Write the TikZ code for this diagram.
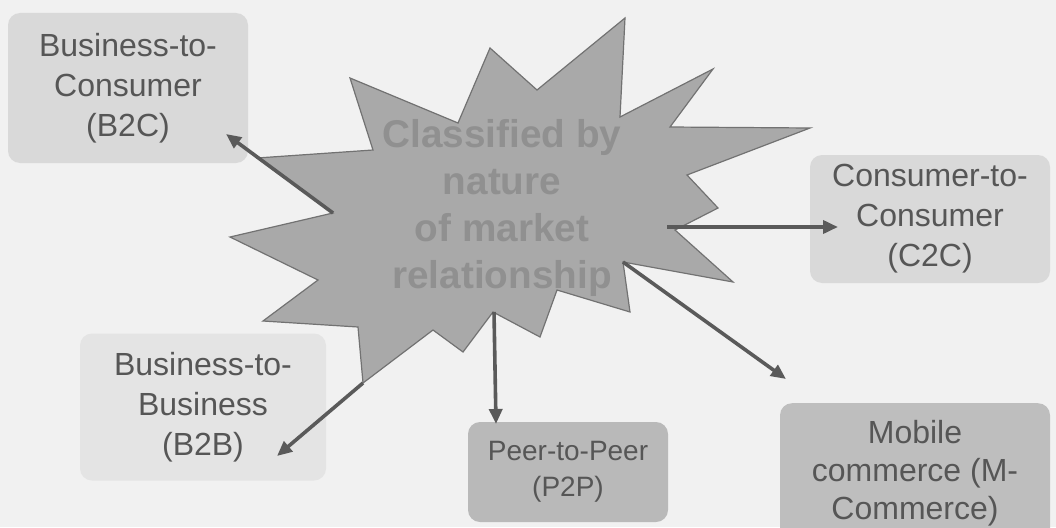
\documentclass[tikz,border=0pt]{standalone}
\usepackage{fontspec}
\setmainfont{Liberation Sans}
\usetikzlibrary{arrows.meta}

\definecolor{pagebg}{HTML}{F1F1F1}
\definecolor{boxlight}{HTML}{D9D9D9}
\definecolor{boxfaint}{HTML}{E4E4E4}
\definecolor{boxdark}{HTML}{B9B9B9}
\definecolor{boxmid}{HTML}{BEBEBE}
\definecolor{labeltext}{HTML}{565656}
\definecolor{starfill}{HTML}{A9A9A9}
\definecolor{starline}{HTML}{727272}
\definecolor{startext}{HTML}{909090}
\definecolor{linkgray}{HTML}{5A5A5A}

\tikzset{
  catbox/.style={rounded corners=12pt, inner sep=0pt, align=center,
    text=labeltext, font=\fontsize{32}{40}\selectfont},
  starshape/.style={fill=starfill, draw=starline, line width=1.2pt, line join=miter},
  startitle/.style={align=center, text=startext,
    font=\bfseries\fontsize{38.7}{47}\selectfont},
  link/.style={draw=linkgray, line width=3.6pt,
    -{Triangle[length=15pt,width=13pt]}},
}

\begin{document}
\begin{tikzpicture}[x=1pt,y=-1pt]
  \useasboundingbox (0,0) rectangle (1056,527);
  \fill[pagebg] (0,0) rectangle (1056,527);

  % category boxes
  \node[catbox, fill=boxlight, minimum width=240pt, minimum height=150pt]
    (b2c) at (128,88) {Business-to-\\Consumer\\(B2C)};
  \node[catbox, fill=boxlight, minimum width=240pt, minimum height=128pt]
    (c2c) at (930,219) {Consumer-to-\\Consumer\\(C2C)};
  \node[catbox, fill=boxfaint, minimum width=246pt, minimum height=147pt]
    (b2b) at (203,407) {Business-to-\\Business\\(B2B)};
  \node[catbox, fill=boxdark, minimum width=200pt, minimum height=100pt,
    font=\fontsize{28}{36}\selectfont]
    (p2p) at (568,472) {Peer-to-Peer\\(P2P)};
  \node[catbox, fill=boxmid, minimum width=270pt, minimum height=150pt,
    anchor=north] (mcom) at (915,403) {};
  \node[catbox, font=\fontsize{32}{38}\selectfont]
    (mcomtext) at (915,473) {Mobile\\commerce (M-\\Commerce)};

  % central burst
  \draw[starshape]
    (625,18) -- (620,117) -- (713,69) -- (670,127) -- (810,128)
    -- (687,175) -- (718,208) -- (675,230) -- (733,282) -- (623,262)
    -- (630,312) -- (557,290) -- (540,337) -- (493,312) -- (463,352)
    -- (433,330) -- (363,383) -- (358,327) -- (263,321) -- (318,280)
    -- (230,237) -- (333,213) -- (257,158) -- (373,150) -- (350,78)
    -- (458,123) -- (490,48) -- (537,90) -- cycle;
  \node[startitle] (title) at (502,208)
    {Classified by\\nature\\of market\\relationship};

  % where the links leave the burst
  \coordinate (outB2C) at (333,213);
  \coordinate (outC2C) at (667,227);
  \coordinate (outMC)  at (623,262);
  \coordinate (outP2P) at (494,312);
  \coordinate (outB2B) at (363,383);
  % where the links end
  \coordinate (inB2C) at (226,134);
  \coordinate (inC2C) at (838,227);
  \coordinate (inMC)  at (786,379);
  \coordinate (inP2P) at (496,424);
  \coordinate (inB2B) at (277,456);

  \draw[link] (outB2C) -- (inB2C);
  \draw[link] (outC2C) -- (inC2C);
  \draw[link] (outMC)  -- (inMC);
  \draw[link] (outP2P) -- (inP2P);
  \draw[link] (outB2B) -- (inB2B);
\end{tikzpicture}
\end{document}
